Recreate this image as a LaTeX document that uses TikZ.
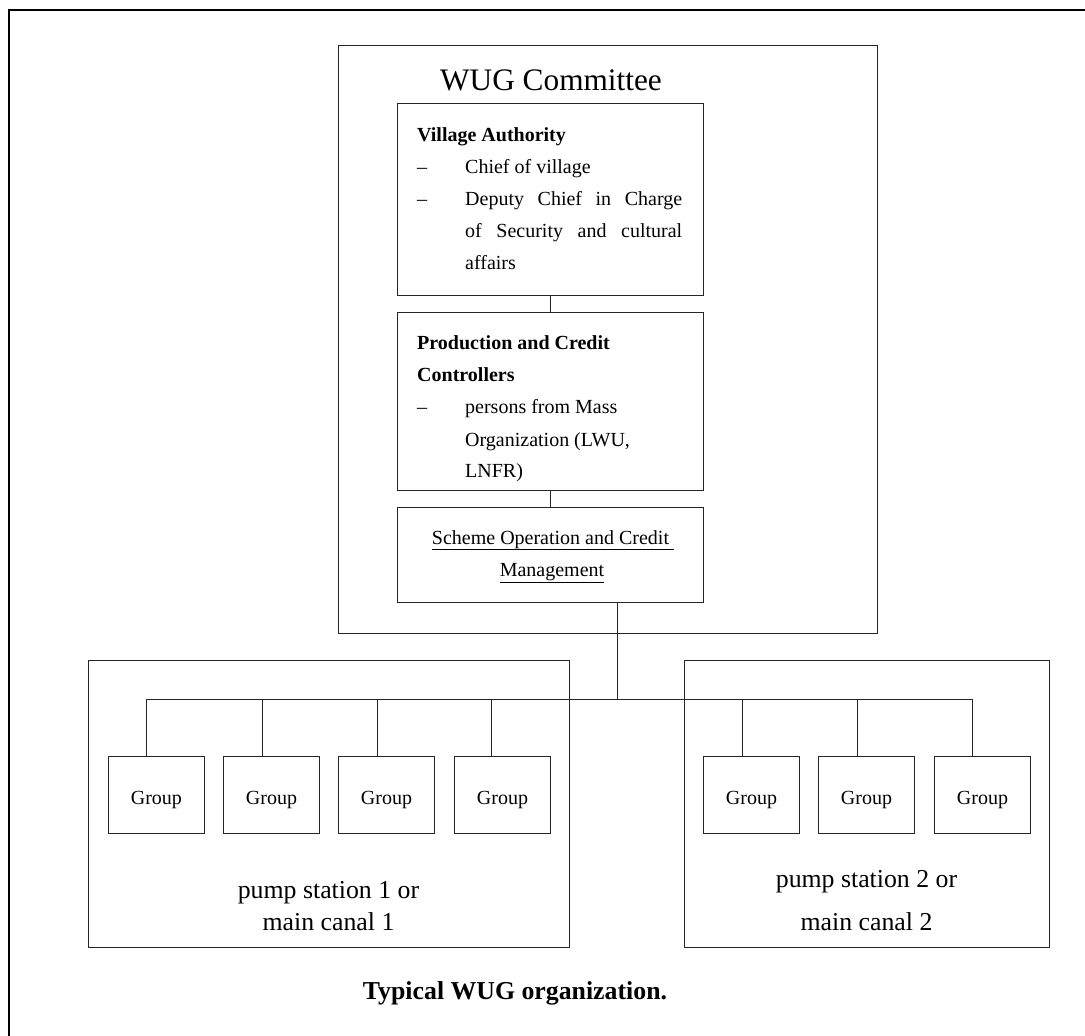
\documentclass[tikz,border=0pt]{standalone}
\usepackage{fontspec}
\setmainfont{Liberation Serif}
\usetikzlibrary{calc}
\begin{document}
\begin{tikzpicture}[x=1pt,y=-1pt,
  box/.style={draw=black!85, line width=0.9pt, rectangle, inner sep=0pt, anchor=north west},
  grp/.style={box, minimum width=96pt, minimum height=77pt},
  txt/.style={inner sep=0pt, anchor=base west, font=\fontsize{20}{24}\selectfont},
  ctxt/.style={inner sep=0pt, anchor=base, font=\fontsize{20}{24}\selectfont},
  ptxt/.style={inner sep=0pt, anchor=base, font=\fontsize{25.8}{30}\selectfont},
  conn/.style={draw=black!85, line width=0.9pt}]
\useasboundingbox (0,0) rectangle (1085,1036);
% outer frame (cropped at right and bottom)
\draw[line width=1.4pt] (9,1060) -- (9,10) -- (1100,10);

% committee
\node[box, minimum width=539pt, minimum height=588pt] (com) at (338,45) {};
\node[inner sep=0pt, anchor=base, font=\fontsize{31.3}{36}\selectfont] (comt) at (551,90) {WUG Committee};

% Village Authority
\node[box, minimum width=306pt, minimum height=192pt] (va) at (397,103) {};
\node[txt] (va1) at (417,141) {\textbf{Village Authority}};
\node[txt] (va2) at (417,173) {--};
\node[txt] (va3) at (465,173) {Chief of village};
\node[txt] (va4) at (417,205) {--};
\node[txt] (va5) at (465,205) {\makebox[217pt][s]{Deputy Chief in Charge}};
\node[txt] (va6) at (465,237) {\makebox[217pt][s]{of Security and cultural}};
\node[txt] (va7) at (465,269) {affairs};

% Production and Credit Controllers
\node[box, minimum width=306pt, minimum height=178pt] (pc) at (397,312) {};
\node[txt] (pc1) at (417,349) {\textbf{Production and Credit}};
\node[txt] (pc2) at (417,381) {\textbf{Controllers}};
\node[txt] (pc3) at (417,413) {--};
\node[txt] (pc4) at (465,413) {persons from Mass};
\node[txt] (pc5) at (465,446) {Organization (LWU,};
\node[txt] (pc6) at (465,477) {LNFR)};

% Scheme
\node[box, minimum width=306pt, minimum height=95pt] (sc) at (397,507) {};
\node[ctxt] (sc1) at (553,544) {\underline{Scheme Operation and Credit\ }};
\node[ctxt] (sc2) at (552,576) {\underline{Management}};

\draw[conn] (va.south) -- (pc.north);
\draw[conn] (pc.south) -- (sc.north);

% pump station boxes
\node[box, minimum width=481pt, minimum height=287pt] (p1) at (88,660) {};
\node[box, minimum width=365pt, minimum height=287pt] (p2) at (684,660) {};
\node[ptxt] (p1a) at (328.5,898) {pump station 1 or};
\node[ptxt] (p1b) at (328.5,930) {main canal 1};
\node[ptxt] (p2a) at (866.5,887) {pump station 2 or};
\node[ptxt] (p2b) at (866.5,930) {main canal 2};

% groups
\node[grp] (g1) at (108,756) {};
\node[grp] (g2) at (223,756) {};
\node[grp] (g3) at (338,756) {};
\node[grp] (g4) at (454,756) {};
\node[grp] (g5) at (703,756) {};
\node[grp] (g6) at (818,756) {};
\node[grp] (g7) at (934,756) {};
\foreach \g in {g1,g2,g3,g4,g5,g6,g7}{
  \node[ctxt] (\g t) at ($(\g.center)+(0,9.5)$) {Group};
}

% bus
\coordinate (bus) at (617,699);
\coordinate (s1) at (146,699);
\coordinate (s2) at (262,699);
\coordinate (s3) at (377,699);
\coordinate (s4) at (491,699);
\coordinate (s5) at (742,699);
\coordinate (s6) at (857,699);
\coordinate (s7) at (972,699);
\draw[conn] (sc.south -| bus) -- (bus);
\draw[conn] (s1) -- (s7);
\draw[conn] (s1) -- (s1 |- g1.north);
\draw[conn] (s2) -- (s2 |- g2.north);
\draw[conn] (s3) -- (s3 |- g3.north);
\draw[conn] (s4) -- (s4 |- g4.north);
\draw[conn] (s5) -- (s5 |- g5.north);
\draw[conn] (s6) -- (s6 |- g6.north);
\draw[conn] (s7) -- (s7 |- g7.north);

% caption
\node[inner sep=0pt, anchor=base, font=\fontsize{25.8}{30}\selectfont\bfseries] (cap) at (515,999) {Typical WUG organization.};
\end{tikzpicture}
\end{document}
